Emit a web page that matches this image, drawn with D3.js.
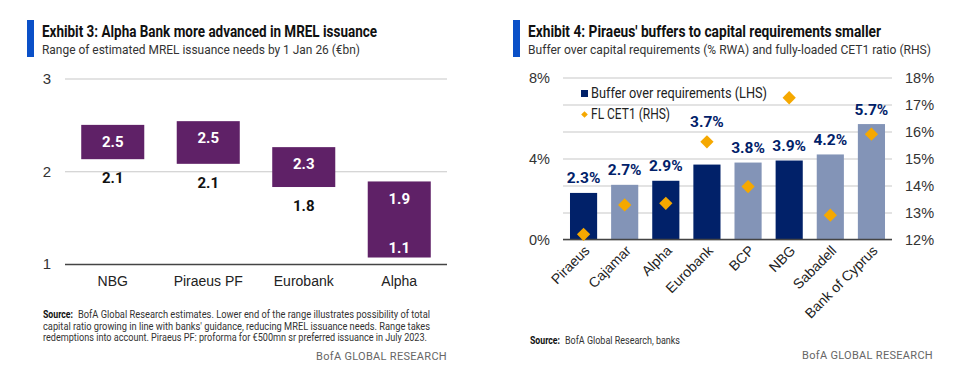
<!DOCTYPE html>
<html>
<head>
<meta charset="utf-8">
<script src="https://cdn.jsdelivr.net/npm/d3@7"></script>
<style>
  body { margin: 0; background: #fff; }
  svg { display: block; font-family: "Roboto", "Liberation Sans", sans-serif; }
</style>
</head>
<body>
<svg id="chart"></svg>
<script>
// Exhibit 3 data
const mrelBanks = ["NBG", "Piraeus PF", "Eurobank", "Alpha"];
const mrelLow = [2.13, 2.08, 1.83, 1.07];
const mrelHigh = [2.5, 2.54, 2.26, 1.89];
const mrelTicks = [1, 2, 3];

// Exhibit 4 data
const bufBanks = ["Piraeus", "Cajamar", "Alpha", "Eurobank", "BCP", "NBG", "Sabadell", "Bank of Cyprus"];
const bufValues = [2.3, 2.7, 2.9, 3.7, 3.8, 3.9, 4.2, 5.7];
const bufGreek = [true, false, true, true, false, true, false, false];
const cet1Values = [12.19, 13.28, 13.34, 15.62, 13.96, 17.25, 12.9, 15.9];
const bufTicks = [0, 4, 8];
const cet1Ticks = [12, 13, 14, 15, 16, 17, 18];

const width = 963, height = 376;
const purple = "#5f2167", navy = "#012169", lightBlue = "#8394b7", orange = "#f5a800", accent = "#0a50c8";
const gridColor = "#c8c8c8", axisColor = "#444";

const svg = d3.select("#chart")
    .attr("width", width)
    .attr("height", height)
    .attr("viewBox", [0, 0, width, height]);

// squeeze a text to the width it has in the (narrow-font) original
function fit(sel, w) {
  return sel.attr("textLength", w).attr("lengthAdjust", "spacingAndGlyphs");
}

function header(g, x, title, subtitle, tw, sw) {
  g.append("rect").attr("x", x).attr("y", 20).attr("width", 7).attr("height", 37).attr("fill", accent);
  g.append("text").attr("x", x + 15).attr("y", 37)
      .attr("font-size", 16).attr("font-weight", "bold").attr("fill", "#111")
      .text(title).call(fit, tw);
  g.append("text").attr("x", x + 15).attr("y", 54)
      .attr("font-size", 13).attr("fill", "#333")
      .text(subtitle).call(fit, sw);
}

function source(g, x, y, text, w) {
  g.append("text").attr("x", x).attr("y", y)
      .attr("font-size", 11).attr("font-weight", "bold").attr("fill", "#111")
      .text("Source:").call(fit, 30);
  g.append("text").attr("x", x + 35).attr("y", y)
      .attr("font-size", 11).attr("fill", "#333")
      .text(text).call(fit, w);
}

// ---------- Exhibit 3 ----------
{
  const g = svg.append("g");
  header(g, 27, "Exhibit 3: Alpha Bank more advanced in MREL issuance",
      "Range of estimated MREL issuance needs by 1 Jan 26 (€bn)", 335, 318);

  const x = d3.scaleBand().domain(mrelBanks).range([65, 447]).paddingInner(0.34).paddingOuter(0.17);
  const y = d3.scaleLinear().domain([1, 3]).range([264, 78.5]);
  const fmt = d3.format(".1f");

  g.append("g")
      .attr("transform", "translate(65,0)")
      .call(d3.axisLeft(y).tickValues(mrelTicks).tickSize(0).tickPadding(14).tickFormat(d3.format("d")))
      .call(a => a.select(".domain").remove())
      .call(a => a.selectAll(".tick text").attr("font-size", 15).attr("fill", "#333").attr("font-family", null))
      .call(a => a.selectAll(".tick line").clone()
          .attr("x2", 447 - 65)
          .attr("stroke", d => d === 1 ? axisColor : gridColor)
          .attr("stroke-width", d => d === 1 ? 1.5 : 1.2));

  const rows = mrelBanks.map((b, i) => ({ b, lo: mrelLow[i], hi: mrelHigh[i] }));

  g.selectAll("rect.bar").data(rows).join("rect")
      .attr("class", "bar")
      .attr("x", d => x(d.b))
      .attr("width", x.bandwidth())
      .attr("y", d => y(d.hi))
      .attr("height", d => y(d.lo) - y(d.hi))
      .attr("fill", purple);

  g.selectAll("text.hi").data(rows).join("text")
      .attr("class", "hi")
      .attr("x", d => x(d.b) + x.bandwidth() / 2)
      .attr("y", d => y(d.hi) + 17)
      .attr("dy", "0.35em")
      .attr("text-anchor", "middle")
      .attr("font-size", 15).attr("font-weight", "bold").attr("fill", "#fff")
      .text(d => fmt(d.hi));

  // lower end label sits under the bar, or inside it when there is no room
  const inside = d => y(d.lo) + 30 > y(1);
  g.selectAll("text.lo").data(rows).join("text")
      .attr("class", "lo")
      .attr("x", d => x(d.b) + x.bandwidth() / 2)
      .attr("y", d => inside(d) ? y(d.lo) - 10 : y(d.lo) + 19)
      .attr("dy", "0.35em")
      .attr("text-anchor", "middle")
      .attr("font-size", 15).attr("font-weight", "bold")
      .attr("fill", d => inside(d) ? "#fff" : "#111")
      .text(d => fmt(d.lo));

  g.append("g")
      .attr("transform", "translate(0,264)")
      .call(d3.axisBottom(x).tickSize(0).tickPadding(12))
      .call(a => a.select(".domain").remove())
      .call(a => a.selectAll(".tick text").attr("font-size", 14).attr("fill", "#222").attr("font-family", null));

  source(g, 43, 318, "BofA Global Research estimates. Lower end of the range illustrates possibility of total", 352);
  g.append("text").attr("x", 43).attr("y", 329.7).attr("font-size", 11).attr("fill", "#333")
      .text("capital ratio growing in line with banks' guidance, reducing MREL issuance needs. Range takes").call(fit, 387);
  g.append("text").attr("x", 43).attr("y", 341.4).attr("font-size", 11).attr("fill", "#333")
      .text("redemptions into account. Piraeus PF: proforma for €500mn sr preferred issuance in July 2023.").call(fit, 384);

  g.append("text").attr("x", 447).attr("y", 360).attr("text-anchor", "end")
      .attr("font-size", 11).attr("fill", "#666").attr("letter-spacing", 0.3)
      .text("BofA GLOBAL RESEARCH");
}

// ---------- Exhibit 4 ----------
{
  const g = svg.append("g");
  header(g, 513, "Exhibit 4: Piraeus' buffers to capital requirements smaller",
      "Buffer over capital requirements (% RWA) and fully-loaded CET1 ratio (RHS)", 353, 403);

  const x0 = 563, x1 = 892, yb = 239.5, yt = 77.5;
  const x = d3.scaleBand().domain(bufBanks).range([x0, x1]).paddingInner(0.34).paddingOuter(0.17);
  const yL = d3.scaleLinear().domain([0, 8]).range([yb, yt]);
  const yR = d3.scaleLinear().domain([12, 18]).range([yb, yt]);

  // gridlines come from the right axis
  g.append("g")
      .attr("transform", `translate(${x1},0)`)
      .call(d3.axisRight(yR).tickValues(cet1Ticks).tickSize(0).tickPadding(13).tickFormat(d => d + "%"))
      .call(a => a.select(".domain").remove())
      .call(a => a.selectAll(".tick text").attr("font-size", 14.5).attr("fill", "#333").attr("font-family", null))
      .call(a => a.selectAll(".tick line").clone()
          .attr("x2", x0 - x1)
          .attr("stroke", gridColor)
          .attr("stroke-width", 1.2));

  g.append("g")
      .attr("transform", `translate(${x0},0)`)
      .call(d3.axisLeft(yL).tickValues(bufTicks).tickSize(0).tickPadding(13).tickFormat(d => d + "%"))
      .call(a => a.select(".domain").remove())
      .call(a => a.selectAll(".tick text").attr("font-size", 14.5).attr("fill", "#333").attr("font-family", null));

  const rows = bufBanks.map((b, i) => ({ b, v: bufValues[i], c: cet1Values[i], greek: bufGreek[i] }));

  g.selectAll("rect.bar").data(rows).join("rect")
      .attr("class", "bar")
      .attr("x", d => x(d.b))
      .attr("width", x.bandwidth())
      .attr("y", d => yL(d.v))
      .attr("height", d => yL(0) - yL(d.v))
      .attr("fill", d => d.greek ? navy : lightBlue);

  g.append("line")
      .attr("x1", x0).attr("x2", x1).attr("y1", yb).attr("y2", yb)
      .attr("stroke", axisColor).attr("stroke-width", 1.5);

  // value label above the bar, lifted over the diamond if they would collide
  const labelY = d => {
    const ly = yL(d.v) - 15;
    return Math.abs(yR(d.c) - ly) < 18 ? yR(d.c) - 20 : ly;
  };
  g.selectAll("text.val").data(rows).join("text")
      .attr("class", "val")
      .attr("x", d => x(d.b) + x.bandwidth() / 2)
      .attr("y", labelY)
      .attr("dy", "0.35em")
      .attr("text-anchor", "middle")
      .attr("font-size", 15.5).attr("font-weight", "bold").attr("fill", navy)
      .text(d => d.v.toFixed(1) + "%");

  const diamond = d3.symbol().type(d3.symbolSquare).size(88);
  g.selectAll("path.cet1").data(rows).join("path")
      .attr("class", "cet1")
      .attr("transform", d => `translate(${x(d.b) + x.bandwidth() / 2},${yR(d.c)}) rotate(45)`)
      .attr("d", diamond)
      .attr("fill", orange);

  g.append("g")
      .attr("transform", `translate(0,${yb})`)
      .call(d3.axisBottom(x).tickSize(0).tickPadding(0))
      .call(a => a.select(".domain").remove())
      .call(a => a.selectAll(".tick text")
          .attr("font-size", 14).attr("fill", "#222").attr("font-family", null)
          .attr("text-anchor", "end")
          .attr("dy", 0)
          .attr("transform", "translate(7,12) rotate(-45)"));

  // legend
  const lg = g.append("g").attr("transform", "translate(581,0)");
  lg.append("rect").attr("x", 0).attr("y", 90).attr("width", 7).attr("height", 7).attr("fill", navy);
  lg.append("text").attr("x", 10).attr("y", 93.5).attr("dy", "0.35em")
      .attr("font-size", 14).attr("fill", "#222").text("Buffer over requirements (LHS)").call(fit, 176);
  lg.append("path").attr("transform", "translate(3.5,114.5) rotate(45)")
      .attr("d", d3.symbol().type(d3.symbolSquare).size(22)).attr("fill", orange);
  lg.append("text").attr("x", 10).attr("y", 114.5).attr("dy", "0.35em")
      .attr("font-size", 14).attr("fill", "#222").text("FL CET1 (RHS)").call(fit, 79);

  source(g, 530, 344, "BofA Global Research, banks", 115);

  g.append("text").attr("x", 933).attr("y", 359).attr("text-anchor", "end")
      .attr("font-size", 11).attr("fill", "#666").attr("letter-spacing", 0.3)
      .text("BofA GLOBAL RESEARCH");
}
</script>
</body>
</html>
